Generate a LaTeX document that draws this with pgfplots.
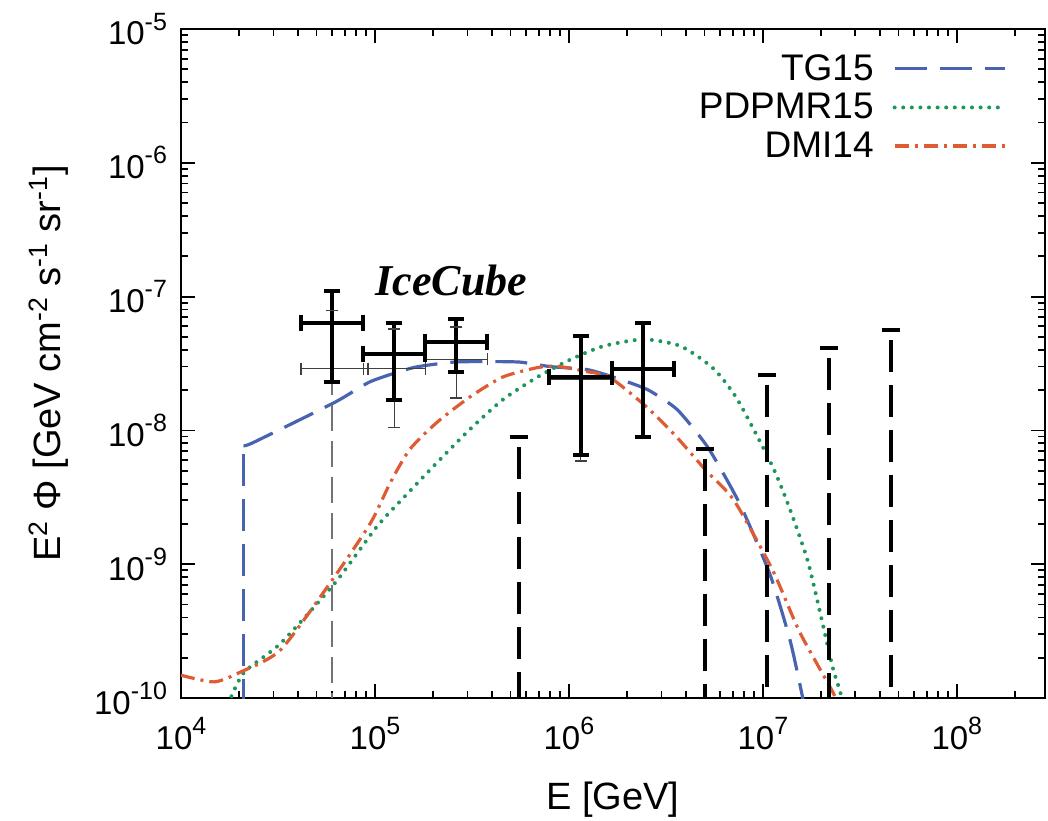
\documentclass[border=0pt]{standalone}
\usepackage{fontspec}
\setmainfont{Liberation Sans}
\newfontfamily\seriffont{Liberation Serif}
\usepackage{pgfplots}
\pgfplotsset{compat=1.18}
\definecolor{tgblue}{RGB}{72,99,176}
\definecolor{pdgreen}{RGB}{30,150,90}
\definecolor{dmorange}{RGB}{222,92,52}
\newcommand{\pw}[1]{10\raisebox{0.45em}{\fontsize{12.5}{12.5}\selectfont #1}}
\begin{document}
\begin{tikzpicture}
\begin{axis}[
  at={(0pt,0pt)}, anchor=south west,
  scale only axis, width=432pt, height=334.5pt,
  xmode=log, ymode=log,
  xmin=1e4, xmax=2.85e8, ymin=1e-10, ymax=1e-5,
  xtick={1e4,1e5,1e6,1e7,1e8},
  xticklabels={\pw{4},\pw{5},\pw{6},\pw{7},\pw{8}},
  ytick={1e-10,1e-9,1e-8,1e-7,1e-6,1e-5},
  yticklabels={\pw{-10},\pw{-9},\pw{-8},\pw{-7},\pw{-6},\pw{-5}},
  minor xtick={2e4,3e4,4e4,5e4,6e4,7e4,8e4,9e4,2e5,3e5,4e5,5e5,6e5,7e5,8e5,9e5,2e6,3e6,4e6,5e6,6e6,7e6,8e6,9e6,2e7,3e7,4e7,5e7,6e7,7e7,8e7,9e7,2e8},
  minor ytick={2e-10,3e-10,4e-10,5e-10,6e-10,7e-10,8e-10,9e-10,2e-9,3e-9,4e-9,5e-9,6e-9,7e-9,8e-9,9e-9,2e-8,3e-8,4e-8,5e-8,6e-8,7e-8,8e-8,9e-8,2e-7,3e-7,4e-7,5e-7,6e-7,7e-7,8e-7,9e-7,2e-6,3e-6,4e-6,5e-6,6e-6,7e-6,8e-6,9e-6},
  tick align=inside,
  major tick length=7pt, minor tick length=3.5pt,
  every tick/.style={black, line width=0.9pt},
  axis line style={line width=1.2pt},
  ticklabel style={font=\fontsize{16.5}{18}\selectfont},
  xticklabel style={yshift=-6pt},
  yticklabel style={xshift=-3.5pt},
  label style={font=\fontsize{19}{21}\selectfont},
  xlabel={E [GeV]},
  ylabel={E\textsuperscript{2} Φ [GeV cm\textsuperscript{-2} s\textsuperscript{-1} sr\textsuperscript{-1}]},
  xlabel style={at={(axis description cs:0.5,-0.152)}, anchor=center},
  ylabel style={at={(axis description cs:-0.153,0.5)}, anchor=center},
  legend plot pos=right,
  legend cell align=right,
  legend image code/.code={\draw[#1] (0pt,0pt) -- (55pt,0pt);},
  legend style={draw=none, fill=none, at={(axis description cs:1,1)}, anchor=north east,
    xshift=-16pt, yshift=-9pt, font=\fontsize{18.5}{19}\selectfont,
    row sep=2pt, column sep=8pt, nodes={inner sep=1.5pt}},
]
% TG15
\addplot[tgblue, line width=1.6pt, dash pattern=on 16pt off 6.5pt, forget plot] coordinates {
(2.1e4,8e-11) (2.1e4,7.7e-9)
};
\addplot[tgblue, line width=1.6pt, dash pattern=on 16pt off 6.5pt, smooth, tension=0.35] coordinates {
(2.1e4,7.7e-9) (2.35e4,8.1e-9) (6.2e4,1.62e-8) (9.5e4,2.32e-8)
(1.58e5,2.95e-8) (2.54e5,3.24e-8) (3.8e5,3.27e-8) (5.6e5,3.24e-8) (8.0e5,3.0e-8)
(1.24e6,2.85e-8) (1.7e6,2.5e-8) (2.54e6,2.02e-8) (3.62e6,1.43e-8) (5.22e6,7.43e-9)
(7.64e6,2.79e-9) (1.09e7,8.34e-10) (1.38e7,2.72e-10) (1.61e7,9.8e-11) (1.7e7,6e-11)
};
\addlegendentry{TG15}
% PDPMR15
\addplot[pdgreen, line width=2pt, line cap=round, dash pattern=on 0pt off 4.3pt, smooth, tension=0.4] coordinates {
(1.75e4,9e-11) (2.11e4,1.55e-10) (3.27e4,2.57e-10) (6.2e4,7.2e-10) (1.02e5,1.9e-9)
(1.41e5,3.16e-9) (2.09e5,5.75e-9) (3.09e5,1.02e-8) (4.57e5,1.7e-8) (6.9e5,2.51e-8)
(1.02e6,3.39e-8) (1.51e6,4.27e-8) (2.43e6,4.79e-8) (3.76e6,4.27e-8) (5.56e6,2.9e-8)
(7.4e6,1.7e-8) (1.12e7,5.4e-9) (1.38e7,2.57e-9) (1.7e7,1.07e-9) (1.97e7,4.4e-10)
(2.29e7,1.7e-10) (2.51e7,1.1e-10) (2.6e7,8e-11)
};
\addlegendentry{PDPMR15}
% DMI14
\addplot[dmorange, line width=1.6pt, dash pattern=on 7pt off 3pt on 1.5pt off 3pt, smooth, tension=0.4] coordinates {
(1e4,1.48e-10) (1.48e4,1.32e-10) (2.0e4,1.55e-10) (3.27e4,2.3e-10) (6.2e4,8.1e-10)
(9.5e4,2.04e-9) (1.2e5,4.07e-9) (1.51e5,7.2e-9) (2.09e5,1.15e-8) (3.09e5,1.78e-8)
(4.57e5,2.51e-8) (6.9e5,2.95e-8) (8.7e5,3.02e-8) (1.24e6,2.75e-8) (1.62e6,2.5e-8)
(2.5e6,1.51e-8) (3.6e6,8.9e-9) (5.1e6,5.0e-9) (7.1e6,3.0e-9) (1.12e7,9.1e-10)
(1.55e7,3.1e-10) (2.3e7,1.1e-10) (2.4e7,9e-11)
};
\addlegendentry{DMI14}
% thin (older) points
\addplot[black!75, line width=0.8pt, unbounded coords=jump, forget plot] coordinates {
(4.15e4,2.9e-8) (9.2e4,2.9e-8) (nan,nan)
(6.03e4,2.9e-8) (6.03e4,7.9e-8) (nan,nan)
(8.71e4,2.9e-8) (1.82e5,2.9e-8) (nan,nan)
(1.26e5,1.05e-8) (1.26e5,5.7e-8) (nan,nan)
(1.82e5,3.4e-8) (3.8e5,3.4e-8) (nan,nan)
(2.63e5,1.75e-8) (2.63e5,5.9e-8) (nan,nan)
(7.94e5,2.4e-8) (1.66e6,2.4e-8) (nan,nan)
(1.15e6,5.9e-9) (1.15e6,4.8e-8)
};
\addplot[black!75, line width=0.8pt, only marks, mark=|, mark size=3pt, forget plot] coordinates {
(4.15e4,2.9e-8) (9.2e4,2.9e-8) (8.71e4,2.9e-8) (1.82e5,2.9e-8) (1.82e5,3.4e-8) (3.8e5,3.4e-8)
};
\addplot[black!75, line width=0.8pt, only marks, mark=-, mark size=3pt, forget plot] coordinates {
(6.03e4,7.9e-8) (1.26e5,1.05e-8) (1.26e5,5.7e-8) (2.63e5,1.75e-8) (2.63e5,5.9e-8) (1.15e6,5.9e-9)
};
\addplot[black!55, line width=1pt, dash pattern=on 13pt off 5pt, forget plot] coordinates {
(6.03e4,2.9e-8) (6.03e4,1e-10)
};
% thick (IceCube) points
\addplot[black, line width=2pt, unbounded coords=jump, forget plot] coordinates {
(4.17e4,6.4e-8) (8.71e4,6.4e-8) (nan,nan)
(6.03e4,2.3e-8) (6.03e4,1.1e-7) (nan,nan)
(8.71e4,3.7e-8) (1.82e5,3.7e-8) (nan,nan)
(1.26e5,1.7e-8) (1.26e5,6.3e-8) (nan,nan)
(1.82e5,4.6e-8) (3.8e5,4.6e-8) (nan,nan)
(2.63e5,2.75e-8) (2.63e5,6.8e-8) (nan,nan)
(7.94e5,2.5e-8) (1.66e6,2.5e-8) (nan,nan)
(1.15e6,6.6e-9) (1.15e6,5.1e-8) (nan,nan)
(1.66e6,2.9e-8) (3.47e6,2.9e-8) (nan,nan)
(2.40e6,8.9e-9) (2.40e6,6.4e-8)
};
\addplot[black, line width=2pt, only marks, mark=|, mark size=4pt, forget plot] coordinates {
(4.17e4,6.4e-8) (8.71e4,6.4e-8) (8.71e4,3.7e-8) (1.82e5,3.7e-8) (1.82e5,4.6e-8) (3.8e5,4.6e-8)
(7.94e5,2.5e-8) (1.66e6,2.5e-8) (1.66e6,2.9e-8) (3.47e6,2.9e-8)
};
\addplot[black, line width=2pt, only marks, mark=-, mark size=4pt, forget plot] coordinates {
(6.03e4,2.3e-8) (6.03e4,1.1e-7) (1.26e5,1.7e-8) (1.26e5,6.3e-8) (2.63e5,2.75e-8) (2.63e5,6.8e-8)
(1.15e6,6.6e-9) (1.15e6,5.1e-8) (2.40e6,8.9e-9) (2.40e6,6.4e-8)
};
% upper limits
\addplot[black, line width=2pt, dash pattern=on 16pt off 6.5pt, dash phase=17.5pt, unbounded coords=jump, forget plot] coordinates {
(5.50e5,8.9e-9) (5.50e5,1e-10) (nan,nan)
(5.01e6,7.3e-9) (5.01e6,1e-10) (nan,nan)
(1.05e7,2.6e-8) (1.05e7,1e-10) (nan,nan)
(2.19e7,4.1e-8) (2.19e7,1e-10) (nan,nan)
(4.57e7,5.6e-8) (4.57e7,1e-10)
};
\addplot[black, line width=2pt, only marks, mark=-, mark size=4.5pt, forget plot] coordinates {
(5.50e5,8.9e-9) (5.01e6,7.3e-9) (1.05e7,2.6e-8) (2.19e7,4.1e-8) (4.57e7,5.6e-8)
};
\node[font=\seriffont\bfseries\itshape\fontsize{22}{24}\selectfont] at (axis cs:2.48e5,1.32e-7) {IceCube};
\end{axis}
\pgfresetboundingbox
\path[use as bounding box] (-90.5pt,-61pt) rectangle (433.5pt,349pt);
\end{tikzpicture}
\end{document}
